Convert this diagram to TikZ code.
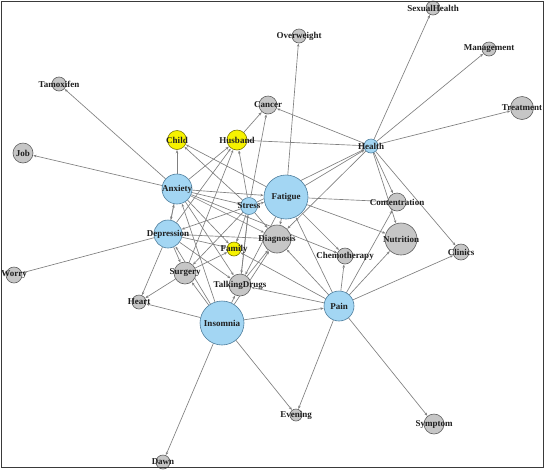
\documentclass[tikz,border=0pt]{standalone}
\usepackage{fontspec}
\setmainfont{Liberation Serif}
\usetikzlibrary{arrows.meta,backgrounds}
\definecolor{bfill}{HTML}{A3D6F3}
\definecolor{bdraw}{HTML}{4F7F9E}
\definecolor{gfill}{HTML}{C6C6C6}
\definecolor{gdraw}{HTML}{5E5E5E}
\definecolor{yfill}{HTML}{F6F200}
\definecolor{ydraw}{HTML}{7A7600}
\definecolor{edgec}{HTML}{808080}
\definecolor{framec}{HTML}{3A3A3A}
\tikzset{
  vtx/.style={circle,inner sep=0pt,line width=0.6pt},
  bnode/.style={vtx,fill=bfill,draw=bdraw},
  gnode/.style={vtx,fill=gfill,draw=gdraw},
  ynode/.style={vtx,fill=yfill,draw=ydraw},
  lbl/.style={inner sep=0pt,font=\fontsize{9}{10}\selectfont\bfseries,text=black!88},
  edge/.style={draw=edgec,line width=0.65pt,-{Stealth[length=3.2pt,width=2.6pt]},shorten >=0.3pt}
}
\begin{document}
\begin{tikzpicture}[x=1pt,y=-1pt]
\useasboundingbox (0,0) rectangle (545,472);
% nodes (circles)
\node[gnode,minimum size=14pt] (SexualHealth) at (433,8) {};
\node[gnode,minimum size=14pt] (Overweight) at (299,36) {};
\node[gnode,minimum size=14pt] (Management) at (489,49) {};
\node[gnode,minimum size=14pt] (Tamoxifen) at (59,84) {};
\node[gnode,minimum size=23pt] (Treatment) at (522,108) {};
\node[gnode,minimum size=18pt] (Cancer) at (268,105) {};
\node[ynode,minimum size=19pt] (Child) at (177,140) {};
\node[ynode,minimum size=20pt] (Husband) at (237,140) {};
\node[bnode,minimum size=14pt] (Health) at (371,146) {};
\node[gnode,minimum size=20pt] (Job) at (23,153) {};
\node[bnode,minimum size=30pt] (Anxiety) at (177,189) {};
\node[bnode,minimum size=44pt] (Fatigue) at (286,197) {};
\node[bnode,minimum size=17pt] (Stress) at (249,206) {};
\node[gnode,minimum size=18pt] (Contentration) at (397,202) {};
\node[bnode,minimum size=28pt] (Depression) at (168,234) {};
\node[gnode,minimum size=28pt] (Diagnosis) at (277,239) {};
\node[gnode,minimum size=32pt] (Nutrition) at (401,239) {};
\node[ynode,minimum size=14pt] (Family) at (234,249) {};
\node[gnode,minimum size=16pt] (Chemotherapy) at (345,256) {};
\node[gnode,minimum size=16pt] (Clinics) at (461,252) {};
\node[gnode,minimum size=16pt] (Worry) at (14,275) {};
\node[gnode,minimum size=22pt] (Surgery) at (185,273) {};
\node[gnode,minimum size=22pt] (TalkingDrugs) at (240,285) {};
\node[gnode,minimum size=14pt] (Heart) at (139,302) {};
\node[bnode,minimum size=30pt] (Pain) at (339,306) {};
\node[bnode,minimum size=44pt] (Insomnia) at (222,323) {};
\node[gnode,minimum size=12pt] (Evening) at (296,415) {};
\node[gnode,minimum size=20pt] (Symptom) at (434,424) {};
\node[gnode,minimum size=14pt] (Dawn) at (163,462) {};
% edges
\begin{scope}[on background layer]
\fill[white] (0,0) rectangle (545,472);
\foreach \a/\b in {
  Health/SexualHealth, Health/Management, Health/Treatment, Health/Cancer,
  Health/Husband, Health/Contentration, Health/Nutrition, Health/Clinics,
  Fatigue/Health, Stress/Health, Health/Diagnosis,
  Insomnia/Pain, Pain/Evening, Pain/Symptom, Pain/Clinics, Pain/Nutrition,
  Pain/Contentration, Pain/Chemotherapy, Pain/Diagnosis, Pain/Fatigue,
  Pain/Family, Pain/TalkingDrugs,
  Fatigue/Overweight, Fatigue/Contentration, Fatigue/Nutrition,
  Fatigue/Chemotherapy, Fatigue/Child, Anxiety/Fatigue, Stress/Fatigue,
  Fatigue/Diagnosis, Fatigue/TalkingDrugs,
  Anxiety/Tamoxifen, Anxiety/Job, Anxiety/Child, Anxiety/Husband,
  Anxiety/Depression, Depression/Anxiety, Anxiety/Stress, Anxiety/Diagnosis,
  Anxiety/Family, Anxiety/TalkingDrugs, Anxiety/Chemotherapy,
  Depression/Worry, Depression/Heart, Depression/Surgery, Depression/Diagnosis,
  Depression/Family, Depression/TalkingDrugs, Depression/Husband,
  Stress/Depression,
  Stress/Cancer, Stress/Husband, Stress/Child, Stress/Diagnosis, Stress/Family,
  Stress/Surgery, Stress/TalkingDrugs,
  Insomnia/Heart, Insomnia/Surgery, Insomnia/Anxiety, Insomnia/TalkingDrugs,
  Insomnia/Diagnosis, Insomnia/Dawn, Insomnia/Evening, Insomnia/Depression,
  Surgery/Heart, Surgery/Husband, Surgery/Family, Husband/Cancer,
  TalkingDrugs/Diagnosis, TalkingDrugs/Stress}
  \path[edge] (\a) -- (\b);
\end{scope}
% labels
\node[lbl] (tSexualHealth) at (SexualHealth) {SexualHealth};
\node[lbl] (tOverweight) at (Overweight) {Overweight};
\node[lbl] (tManagement) at (Management) {Management};
\node[lbl] (tTamoxifen) at (Tamoxifen) {Tamoxifen};
\node[lbl] (tTreatment) at (Treatment) {Treatment};
\node[lbl] (tCancer) at (Cancer) {Cancer};
\node[lbl] (tChild) at (Child) {Child};
\node[lbl] (tHusband) at (Husband) {Husband};
\node[lbl] (tHealth) at (Health) {Health};
\node[lbl] (tJob) at (Job) {Job};
\node[lbl] (tAnxiety) at (Anxiety) {Anxiety};
\node[lbl] (tFatigue) at (Fatigue) {Fatigue};
\node[lbl] (tStress) at (Stress) {Stress};
\node[lbl] (tContentration) at (Contentration) {Contentration};
\node[lbl] (tDepression) at (Depression) {Depression};
\node[lbl] (tDiagnosis) at (Diagnosis) {Diagnosis};
\node[lbl] (tNutrition) at (Nutrition) {Nutrition};
\node[lbl] (tFamily) at (Family) {Family};
\node[lbl] (tChemotherapy) at (Chemotherapy) {Chemotherapy};
\node[lbl] (tClinics) at (Clinics) {Clinics};
\node[lbl] (tWorry) at (Worry) {Worry};
\node[lbl] (tSurgery) at (Surgery) {Surgery};
\node[lbl] (tTalkingDrugs) at (TalkingDrugs) {TalkingDrugs};
\node[lbl] (tHeart) at (Heart) {Heart};
\node[lbl] (tPain) at (Pain) {Pain};
\node[lbl] (tInsomnia) at (Insomnia) {Insomnia};
\node[lbl] (tEvening) at (Evening) {Evening};
\node[lbl] (tSymptom) at (Symptom) {Symptom};
\node[lbl] (tDawn) at (Dawn) {Dawn};
\draw[framec,line width=1.5pt] (1.5,1.5) rectangle (543.5,467.5);
\end{tikzpicture}
\end{document}
